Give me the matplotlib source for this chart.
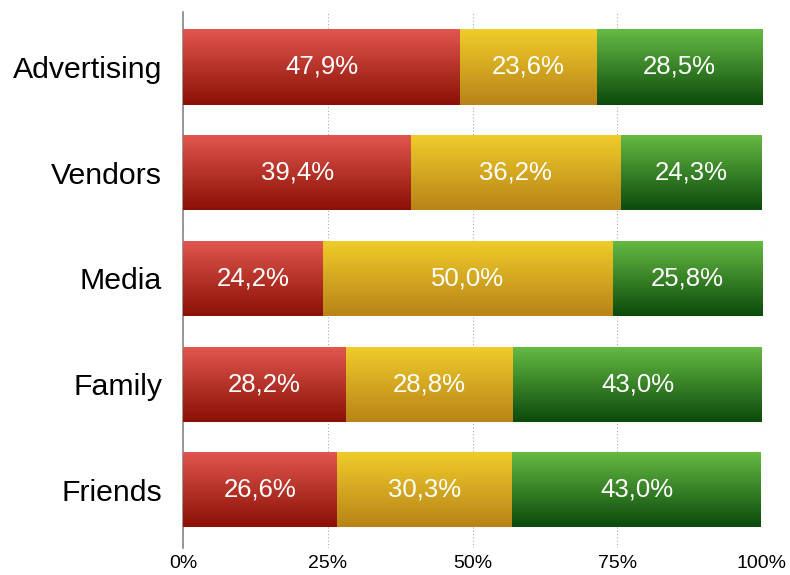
import numpy as np
import matplotlib.pyplot as plt
from matplotlib.colors import LinearSegmentedColormap

categories = ["Friends", "Family", "Media", "Vendors", "Advertising"]
red_vals = [26.6, 28.2, 24.2, 39.4, 47.9]
yellow_vals = [30.3, 28.8, 50.0, 36.2, 23.6]
green_vals = [43.0, 43.0, 25.8, 24.3, 28.5]
tick_vals = [0, 25, 50, 75, 100]
tick_labels = ["0%", "25%", "50%", "75%", "100%"]

# top colour, bottom colour for each series
gradients = [
    ("#e2574f", "#8a1005"),
    ("#f0cd2a", "#b88318"),
    ("#66bb44", "#0b4a0b"),
]

plt.rcParams['font.family'] = ['Liberation Sans', 'DejaVu Sans']

fig = plt.figure(figsize=(7.9, 5.75), dpi=100)
ax = fig.add_axes([183 / 790, 1 - 548 / 575, (762 - 183) / 790, (548 - 12) / 575])

y = np.arange(len(categories))
height = 0.71
left = np.zeros(len(categories))
grad = np.linspace(0, 1, 256).reshape(-1, 1)

for vals, (top, bottom) in zip([red_vals, yellow_vals, green_vals], gradients):
    bars = ax.barh(y, vals, height=height, left=left, color=bottom, zorder=2)
    cmap = LinearSegmentedColormap.from_list("g", [bottom, top])
    for bar, v, l, yy in zip(bars, vals, left, y):
        im = ax.imshow(grad, cmap=cmap, aspect='auto', origin='lower',
                       extent=[l, l + v, yy - height / 2, yy + height / 2], zorder=3)
        im.set_clip_path(bar)
        ax.text(l + v / 2, yy, f"{v:.1f}%".replace(".", ","), ha='center', va='center',
                color='white', fontsize=18.5, zorder=4)
    left = left + np.array(vals)

ax.set_xlim(0, 100)
ax.set_ylim(-0.55, 4.52)
ax.set_yticks(y)
ax.set_yticklabels(categories, fontsize=21.8)
ax.set_xticks(tick_vals)
ax.set_xticklabels(tick_labels, fontsize=14)
ax.tick_params(axis='x', length=0, pad=5)
ax.tick_params(axis='y', length=0, pad=15)
ax.xaxis.grid(True, linestyle=(0, (1, 2)), color='#aaaaaa', linewidth=0.8, zorder=0)
ax.set_axisbelow(True)
for s in ['top', 'right', 'bottom']:
    ax.spines[s].set_visible(False)
ax.spines['left'].set_color('#888888')
ax.spines['left'].set_linewidth(1.2)

fig.savefig("out.png", dpi=100)
